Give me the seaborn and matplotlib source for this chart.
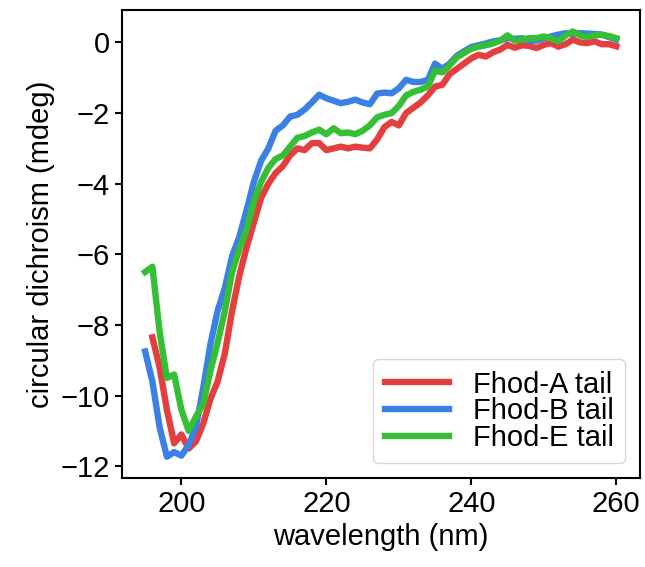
import numpy as np
import pandas as pd
from matplotlib import pyplot as plt
import seaborn as sns

plt.rcParams['font.family'] = ['Liberation Sans', 'DejaVu Sans']

# DATA (1 nm steps)
wavelength = np.arange(195, 261)

fhod_a = [np.nan, -8.35, -9.2, -10.4, -11.35, -11.1, -11.5, -11.3, -10.8, -10.1,
          -9.6, -8.8, -7.6, -6.6, -5.8, -5.1, -4.4, -4.0, -3.7, -3.5,
          -3.2, -3.0, -3.05, -2.85, -2.85, -3.05, -3.0, -2.95, -3.0, -2.95,
          -2.98, -3.0, -2.75, -2.4, -2.25, -2.35, -2.0, -1.85, -1.7, -1.5,
          -1.25, -1.2, -0.9, -0.75, -0.6, -0.45, -0.35, -0.4, -0.28, -0.2,
          -0.07, -0.15, -0.08, -0.1, -0.16, -0.07, -0.02, -0.12, -0.05, 0.08,
          0.0, -0.02, 0.03, -0.05, -0.05, -0.11]

fhod_b = [-8.75, -9.6, -10.9, -11.73, -11.6, -11.7, -11.4, -10.9, -9.8, -8.55,
          -7.6, -6.95, -6.05, -5.5, -4.75, -3.95, -3.35, -3.0, -2.5, -2.35,
          -2.1, -2.05, -1.9, -1.7, -1.48, -1.58, -1.65, -1.72, -1.68, -1.62,
          -1.7, -1.75, -1.45, -1.42, -1.44, -1.3, -1.06, -1.12, -1.12, -1.06,
          -0.6, -0.75, -0.6, -0.38, -0.25, -0.13, -0.08, -0.03, 0.03, 0.06,
          0.12, 0.1, 0.12, 0.05, 0.05, 0.12, 0.17, 0.22, 0.26, 0.24,
          0.26, 0.25, 0.24, 0.22, 0.15, 0.08]

fhod_e = [-6.5, -6.35, -8.2, -9.5, -9.4, -10.4, -11.0, -10.6, -10.25, -9.3,
          -8.5, -7.6, -6.5, -5.85, -5.3, -4.5, -3.95, -3.55, -3.3, -3.2,
          -2.95, -2.7, -2.65, -2.55, -2.47, -2.6, -2.43, -2.57, -2.55, -2.6,
          -2.5, -2.35, -2.12, -2.05, -2.0, -1.8, -1.5, -1.4, -1.34, -1.25,
          -0.8, -0.85, -0.65, -0.42, -0.3, -0.18, -0.12, -0.08, -0.03, 0.05,
          0.2, 0.05, 0.08, 0.12, 0.12, 0.17, 0.12, 0.03, 0.2, 0.31,
          0.2, 0.15, 0.2, 0.22, 0.18, 0.12]

labels = ['Fhod-A tail', 'Fhod-B tail', 'Fhod-E tail']
colors = ['#e53e3e', '#3b80e4', '#35bf35']

df = pd.concat([
    pd.DataFrame({'wavelength': wavelength, 'cd': vals, 'sample': lab})
    for vals, lab in zip([fhod_a, fhod_b, fhod_e], labels)
]).dropna()

fig, ax = plt.subplots(figsize=(6.45, 5.67), dpi=100)
fig.subplots_adjust(left=0.1885, right=0.992, top=0.982, bottom=0.157)

sns.lineplot(data=df, x='wavelength', y='cd', hue='sample', palette=colors,
             linewidth=4.6, ax=ax)

ax.set_xticks([200, 220, 240, 260])
ax.set_yticks([0, -2, -4, -6, -8, -10, -12])
ax.tick_params(labelsize=21, width=1.5, length=5)
for s in ax.spines.values():
    s.set_linewidth(1.5)

ax.set_xlabel('wavelength (nm)', fontsize=21)
ax.set_ylabel('circular dichroism (mdeg)', fontsize=21)

ax.legend(title=None, fontsize=21, loc='lower right', labelspacing=-0.05,
          handlelength=2.2, handletextpad=0.8)

fig.savefig('out.png', dpi=100)
plt.close()
